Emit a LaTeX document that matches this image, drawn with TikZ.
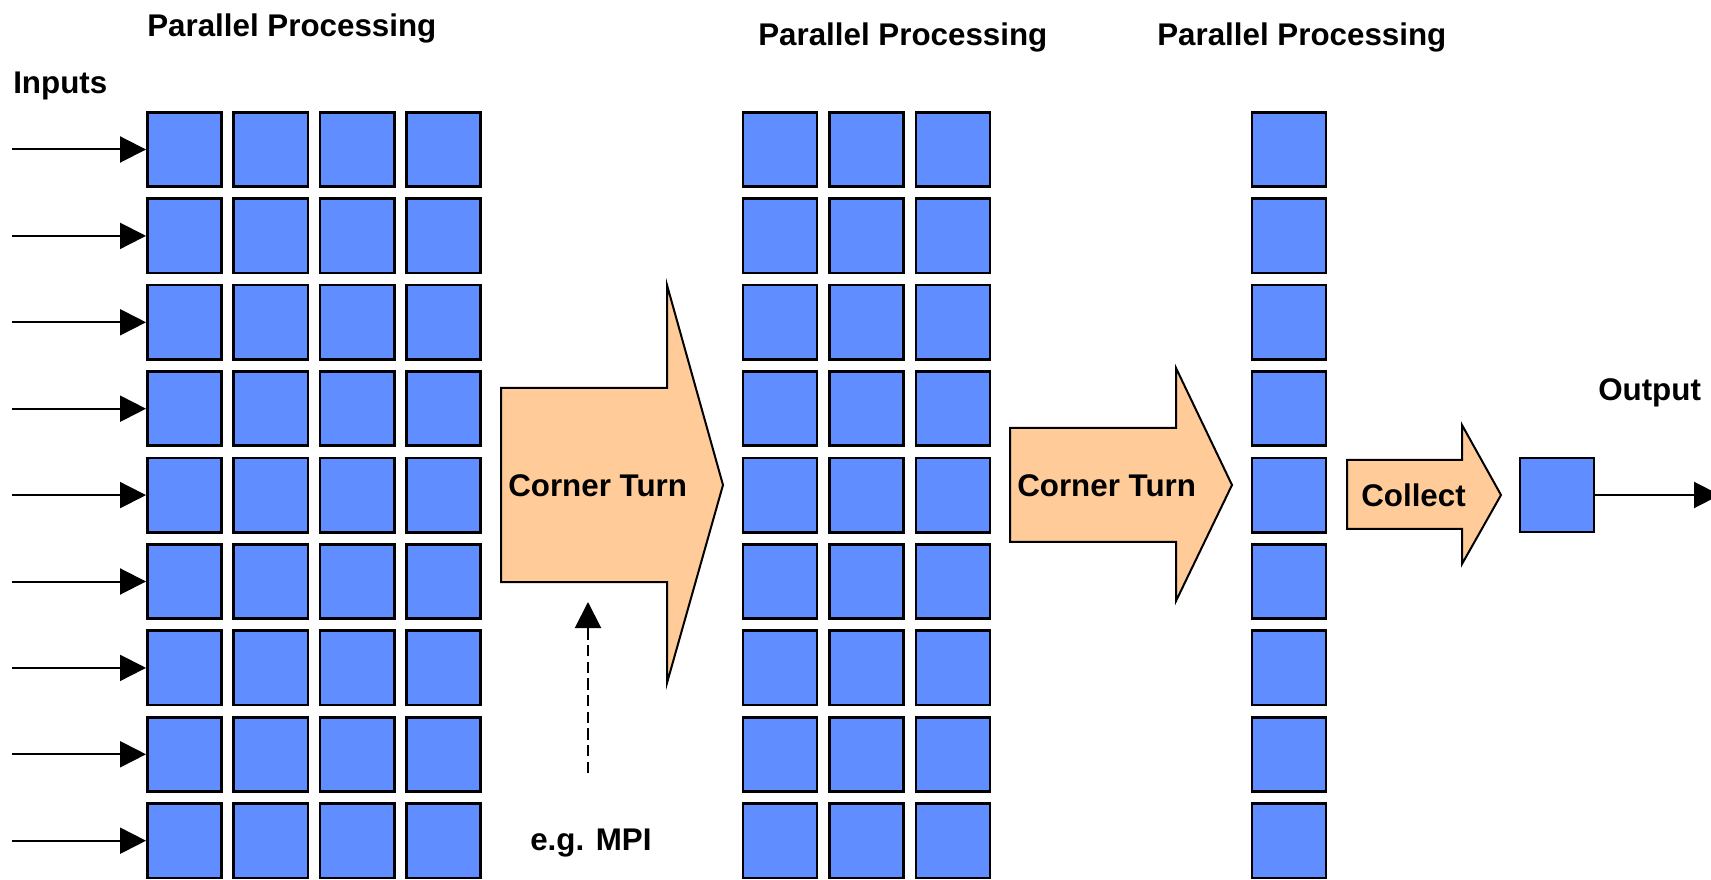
\documentclass[tikz,border=0pt]{standalone}
\usepackage{fontspec}
\setmainfont{Liberation Sans}
\usepackage{xcolor}
\usepackage{tikz}
\usetikzlibrary{arrows.meta}

\definecolor{cellblue}{RGB}{96,141,255}
\definecolor{turnorange}{RGB}{255,204,153}

\begin{document}
\begin{tikzpicture}[x = 0.75pt, y = -0.75pt,
    cell/.style = {draw, line width = 2pt, fill = cellblue, inner sep = 0pt, minimum size = 55.7pt},
    turn/.style = {draw, line width = 1.5pt, fill = turnorange, line join = miter},
    lbl/.style = {font = \fontsize{23.5}{28}\selectfont\bfseries, inner sep = 0pt},
    feed/.style = {line width = 1.5pt, -{Triangle[length = 19.5pt, width = 19.5pt]}}]
    \clip (0, 0) rectangle (1711, 880);
    {
      \foreach \r in {1, ..., 9} {
        \foreach \c in {1, ..., 4}
          \node[cell] (a-\r-\c) at ({184.5 + 86.3 * (\c - 1)}, {149.5 + 86.4 * (\r - 1)}) {};
        \coordinate (in-\r) at (12, {149.5 + 86.4 * (\r - 1)});
        \draw[feed] (in-\r) -- (a-\r-1.west);
      }
    }
    {
      \foreach \r in {1, ..., 9}
        \foreach \c in {1, ..., 3}
          \node[cell] (b-\r-\c) at ({780 + 86.5 * (\c - 1)}, {149.5 + 86.4 * (\r - 1)}) {};
    }
    {
      \foreach \r in {1, ..., 9}
        \node[cell] (c-\r) at (1289, {149.5 + 86.4 * (\r - 1)}) {};
    }
    \node[cell] (out) at (1557, 495) {};
    \coordinate (out-end) at (1720, 495);
    \draw[feed] (out) -- (out-end);

    \filldraw[turn] (501, 388) -- (667, 388) -- (667, 285) -- (723, 485) -- (667, 683) -- (667, 582) -- (501, 582) -- cycle;
    \filldraw[turn] (1010, 428) -- (1176, 428) -- (1176, 368) -- (1232, 485) -- (1176, 601) -- (1176, 542) -- (1010, 542) -- cycle;
    \filldraw[turn] (1347, 460) -- (1462, 460) -- (1462, 425) -- (1501, 495) -- (1462, 564) -- (1462, 529) -- (1347, 529) -- cycle;

    \node[lbl, anchor = base west] (inputs) at (13, 94) {Inputs};
    \node[lbl, anchor = base west] (pp1) at (147, 37) {Parallel Processing};
    \node[lbl, anchor = base west] (pp2) at (758, 46) {Parallel Processing};
    \node[lbl, anchor = base west] (pp3) at (1157, 46) {Parallel Processing};
    \node[lbl, anchor = base west] (ct1) at (508, 497) {Corner Turn};
    \node[lbl, anchor = base west] (ct2) at (1017, 497) {Corner Turn};
    \node[lbl, anchor = base west] (coll) at (1361, 507) {Collect};
    \node[lbl, anchor = base west] (output) at (1598, 401) {Output};
    \node[lbl, anchor = base west] (mpi) at (530, 850) {e.g. MPI};

    \coordinate (mpi-from) at (588, 773);
    \coordinate (mpi-to) at (588, 602);
    \draw[feed, dash pattern = on 8.5pt off 4pt] (mpi-from) -- (mpi-to);
\end{tikzpicture}
\end{document}
